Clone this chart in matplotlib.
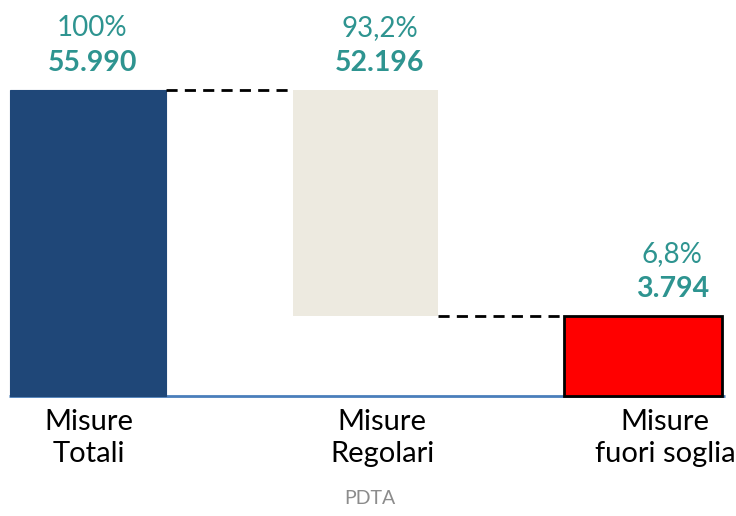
import numpy as np
import matplotlib
matplotlib.use("Agg")
import matplotlib.pyplot as plt

# Waterfall data
categories = ["Misure\nTotali", "Misure\nRegolari", "Misure\nfuori soglia"]
values = [55990, 52196, 3794]
percent_labels = ["100%", "93,2%", "6,8%"]
value_labels = ["55.990", "52.196", "3.794"]
footer = "PDTA"

total = values[0]
regular = values[1]
out_thr = values[2]
bottoms = [0, out_thr, 0]

# Axis break: the small segment gets extra room so it stays readable
BREAK = out_thr
LOW_H, HIGH_H = 80.0, 226.0


def fwd(v):
    v = np.asarray(v, dtype=float)
    return np.where(v <= BREAK, v / BREAK * LOW_H,
                    LOW_H + (v - BREAK) / (total - BREAK) * HIGH_H)


def inv(y):
    y = np.asarray(y, dtype=float)
    return np.where(y <= LOW_H, y / LOW_H * BREAK,
                    BREAK + (y - LOW_H) / HIGH_H * (total - BREAK))


plt.rcParams["font.family"] = ["Lato", "DejaVu Sans"]

fig = plt.figure(figsize=(7.36, 5.16), dpi=100)
ax = fig.add_axes([0, 0, 1, 1])
ax.set_yscale("function", functions=(fwd, inv))
ax.set_ylim(inv(-120.0), inv(396.0))
ax.set_xlim(-0.317, 2.335)
ax.axis("off")

x = np.arange(len(categories))
widths = [0.56, 0.52, 0.57]
faces = ["#1F4778", "#EDEAE0", "#FF0000"]
edges = ["#1F4778", "#EDEAE0", "#000000"]
lws = [0.8, 0, 2.0]

# baseline
ax.plot([-0.283, 2.297], [0, 0], color="#4A7EBB", lw=2, zorder=1,
        solid_capstyle="butt")

for i in range(3):
    ax.bar(x[i], values[i], bottom=bottoms[i], width=widths[i],
           color=faces[i], edgecolor=edges[i], linewidth=lws[i], zorder=2)

# connectors
dash = (0, (4, 2.6))
ax.plot([x[0] + widths[0] / 2, x[1] - widths[1] / 2], [total, total],
        color="black", lw=2, ls=dash, zorder=3)
ax.plot([x[1] + widths[1] / 2, x[2] - widths[2] / 2], [out_thr, out_thr],
        color="black", lw=2, ls=dash, zorder=3)

teal = "#2E9490"
label_dx = [3, 10, 21]   # points
cat_dx = [1, 12, 16]     # points
tops = [b + v for b, v in zip(bottoms, values)]
for i in range(3):
    ax.annotate(percent_labels[i], xy=(x[i], tops[i]),
                xytext=(label_dx[i], 44.5), textcoords="offset points",
                ha="center", va="center", fontsize=20, color=teal)
    ax.annotate(value_labels[i], xy=(x[i], tops[i]),
                xytext=(label_dx[i], 19.5), textcoords="offset points",
                ha="center", va="center", fontsize=20.5, color=teal,
                fontweight="bold")
    ax.annotate(categories[i], xy=(x[i], 0),
                xytext=(cat_dx[i], -9), textcoords="offset points",
                ha="center", va="top", fontsize=21, color="black",
                linespacing=1.3)

fig.text(370 / 736, 1 - 498 / 516, footer, ha="center", va="center",
         fontsize=14, color="#8C8C8C")

fig.savefig("out.png", dpi=100)
